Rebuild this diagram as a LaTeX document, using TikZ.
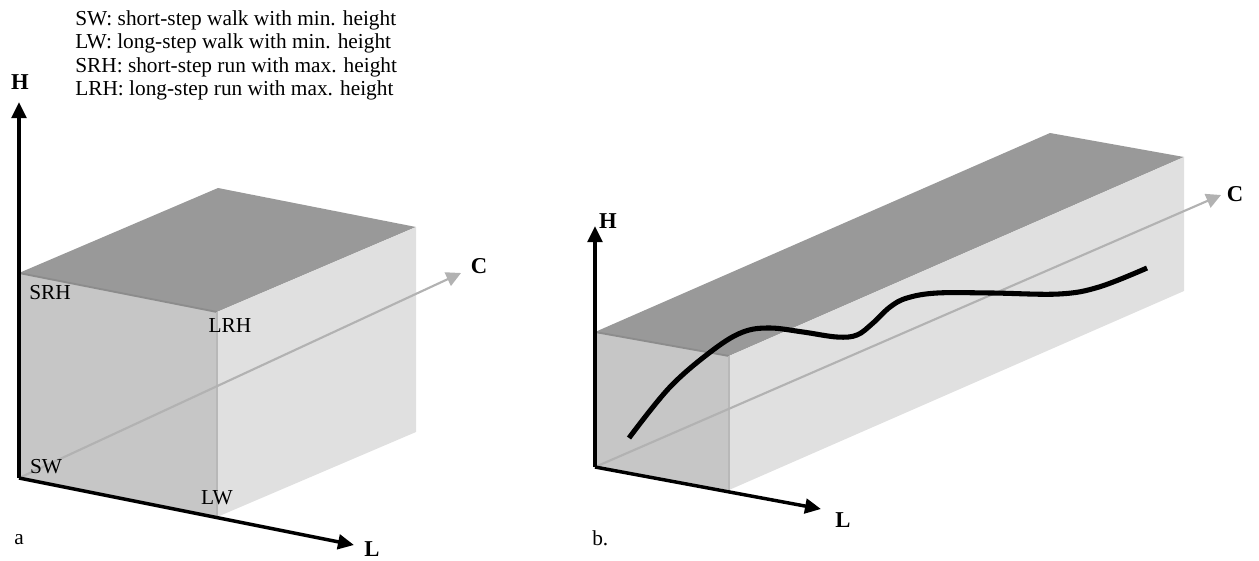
\documentclass[tikz,border=0pt]{standalone}
\usepackage{fontspec}
\setmainfont{Liberation Serif}
\usetikzlibrary{arrows.meta, positioning, calc}
\definecolor{topgrey}{RGB}{153,153,153}
\definecolor{frontgrey}{RGB}{198,198,198}
\definecolor{sidegrey}{RGB}{224,224,224}
\definecolor{ridgegrey}{RGB}{140,140,140}
\definecolor{seamgrey}{RGB}{184,184,184}
\definecolor{axisgrey}{RGB}{178,178,178}

\begin{document}
\begin{tikzpicture}[
  x=0.75pt, y=-0.75pt,
  font=\fontsize{16}{17.5}\selectfont,
  axis/.style={-{Triangle[length=12pt, width=11pt]}, line width=2.6pt, black},
  caxis/.style={-{Triangle[length=11pt, width=11pt]}, line width=1.6pt, axisgrey},
  topface/.style={fill=topgrey},
  frontface/.style={fill=frontgrey},
  sideface/.style={fill=sidegrey},
  ridge/.style={draw=ridgegrey, line width=1.4pt},
  seam/.style={draw=seamgrey, line width=1.4pt},
  trace/.style={line width=3.8pt, black},
  axlbl/.style={font=\fontsize{17}{20}\selectfont\bfseries, inner sep=0pt},
  corner/.style={inner sep=0pt, anchor=base},
  lbl/.style={inner sep=0pt, anchor=base west}
]
\useasboundingbox (0,0) rectangle (1259,560);

% ── Legend ─────────────────────────────────────────────────────
\node[inner sep=0pt, anchor=north west, align=left] (legend) at (75,10.5)
  {SW: short-step walk with min. height\\
   LW: long-step walk with min. height\\
   SRH: short-step run with max. height\\
   LRH: long-step run with max. height};

% ── Panel a: box (front 198 wide, 205 high, depth (199,-85)) ──
\coordinate (Oa) at (19,478);
\coordinate (Ta) at (19,273);
\coordinate (Ra) at (217,312);
\coordinate (Ba) at (217,517);

\fill[topface]   (Ta) -- (Ra) -- ++(199,-85) -- ($(Ta)+(199,-85)$) -- cycle;
\fill[sideface]  (Ra) -- (Ba) -- ++(199,-85) -- ++(0,-205) -- cycle;
\fill[frontface] (Oa) -- (Ta) -- (Ra) -- (Ba) -- cycle;
\draw[ridge] (Ta) -- (Ra);
\draw[seam]  (Ra) -- (Ba);

% ── Panel a: axes ──
\coordinate (Ha) at (19,102);
\coordinate (La) at (354,545);
\coordinate (Ca) at (461,273);
\draw[caxis] (Oa) -- (Ca);
\draw[axis]  (Oa) -- (Ha);
\draw[axis]  (Oa) -- (La);

\node[axlbl] (HlblA) at (20,82)  {H};
\node[axlbl] (LlblA) at (372,549) {L};
\node[axlbl] (ClblA) at (479,266) {C};

\node[corner] (srh) at (50,299)  {SRH};
\node[corner] (lrh) at (230,332) {LRH};
\node[corner] (sw)  at (46,473)  {SW};
\node[corner] (lw)  at (217,504) {LW};
\node[lbl] (capA) at (14,544) {a};

% ── Panel b: long box (front 134 wide, 134 high, depth (455,-199)) ──
\coordinate (Ob) at (595,467);
\coordinate (Tb) at (595,332);
\coordinate (Rb) at (729,356);
\coordinate (Bb) at (729,490);

\fill[topface]   (Tb) -- (Rb) -- ++(455,-199) -- ($(Tb)+(455,-199)$) -- cycle;
\fill[sideface]  (Rb) -- (Bb) -- ++(455,-199) -- ++(0,-134) -- cycle;
\fill[frontface] (Ob) -- (Tb) -- (Rb) -- (Bb) -- cycle;
\draw[ridge] (Tb) -- (Rb);
\draw[seam]  (Rb) -- (Bb);

% ── Panel b: axes ──
\coordinate (Hb) at (595,226);
\coordinate (Lb) at (821,509);
\coordinate (Cb) at (1221,195);
\draw[caxis] (Ob) -- (Cb);
\draw[axis]  (Ob) -- (Hb);
\draw[axis]  (Ob) -- (Lb);

\node[axlbl] (HlblB) at (608,221)  {H};
\node[axlbl] (LlblB) at (843,520)  {L};
\node[axlbl] (ClblB) at (1235,194) {C};
\node[lbl] (capB) at (592,545) {b.};

% ── Panel b: trajectory ──
\draw[trace] plot[smooth, tension=0.6] coordinates {
  (629,438) (670,387) (713,350) (743,332) (770,328) (803,332)
  (837,337) (857,335) (873,323) (890,307) (907,298) (937,293)
  (992,293) (1059,294) (1099,287) (1147,268)};

\end{tikzpicture}
\end{document}
